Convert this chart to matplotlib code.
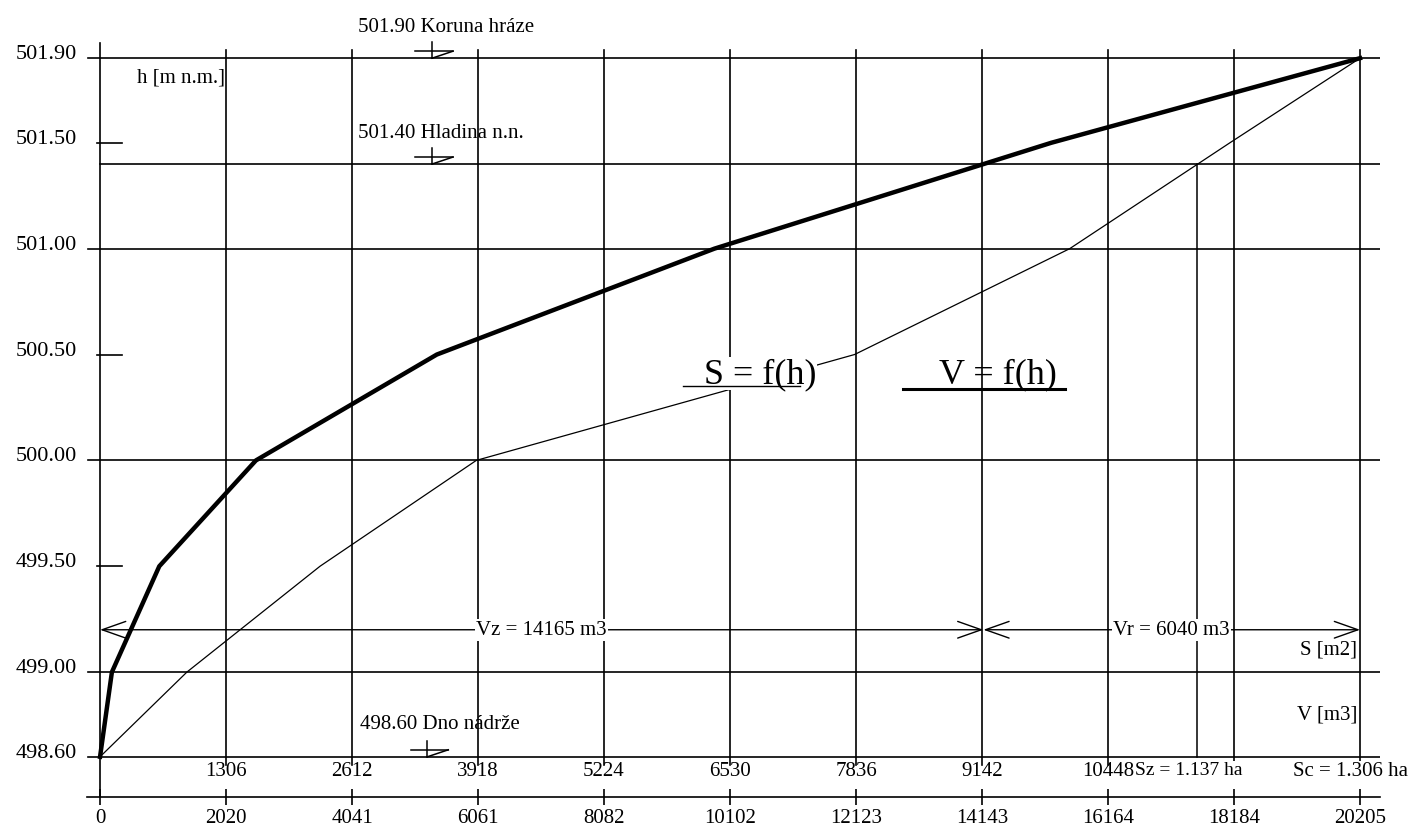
import numpy as np
import matplotlib.pyplot as plt

plt.rcParams['font.family'] = ['Liberation Serif', 'DejaVu Serif']

# reservoir levels h [m n.m.], volume V [m3], area S [m2]
h = [498.60, 499.00, 499.50, 500.00, 500.50, 501.00, 501.50, 501.90]
V = [0, 190, 950, 2500, 5400, 9850, 15250, 20205]
S = [0, 900, 2280, 3900, 7820, 10050, 11710, 13060]

V_max = 20205
S_max = 13060
V_ticks = [0, 2020, 4041, 6061, 8082, 10102, 12123, 14143, 16164, 18184, 20205]
S_ticks = [1306, 2612, 3918, 5224, 6530, 7836, 9142, 10448]
h_ticks = [501.90, 501.50, 501.00, 500.50, 500.00, 499.50, 499.00, 498.60]
h_long = [501.90, 501.00, 500.00, 499.00, 498.60]
h_short = [501.50, 500.50, 499.50]

h_crest = 501.90
h_normal = 501.40
h_bottom = 498.60
Vz = 14165
Vr = 6040
Sz = 11370
h_arrow = 499.20


def s2v(s):
    return np.asarray(s, dtype=float) * V_max / S_max


def v2s(v):
    return np.asarray(v, dtype=float) * S_max / V_max


def level_mark(ax, x0, lev):
    # water level symbol
    kw = dict(color='black', lw=1.1)
    ax.plot([x0 - 270, x0 + 335], [lev + 0.033] * 2, **kw)
    ax.plot([x0, x0], [lev, lev + 0.075], **kw)
    ax.plot([x0 + 335, x0], [lev + 0.033, lev], **kw)


fig = plt.figure(figsize=(14.25, 8.37), dpi=100)
ax = fig.add_axes([0.0608, 0.0466, 0.9074, 0.908])
ax.set_xlim(-215, 20520)
ax.set_ylim(498.41, 502.0)

for s in ['top', 'right', 'left']:
    ax.spines[s].set_visible(False)
ax.spines['bottom'].set_linewidth(1.2)

# V axis (bottom)
ax.set_xticks(V_ticks, labels=[str(v) for v in V_ticks])
ax.tick_params(axis='x', direction='inout', length=12, width=1.2, pad=2, labelsize=15)

# h labels
ax.set_yticks(h_ticks, labels=[f'{v:.2f}' for v in h_ticks])
ax.tick_params(axis='y', length=0, pad=7, labelsize=16)
plt.setp(ax.get_yticklabels(), va='baseline')

# S axis (labels under the bottom level line)
loc = (h_bottom - 498.41) / (502.0 - 498.41)
sec = ax.secondary_xaxis(loc, functions=(v2s, s2v))
sec.set_xticks(S_ticks, labels=[str(s) for s in S_ticks])
sec.tick_params(length=0, pad=3, labelsize=15)
for sp in sec.spines.values():
    sp.set_visible(False)

# grid
for lev in h_long:
    ax.plot([-200, 20520], [lev, lev], color='black', lw=1.2)
ax.plot([0, 20520], [h_normal, h_normal], color='black', lw=1.2)
for lev in h_short:
    ax.plot([-48, 353], [lev, lev], color='black', lw=1.2)
ax.plot([0, 0], [498.41, 501.97], color='black', lw=1.2)
for v in V_ticks[1:]:
    ax.plot([v, v], [498.56, 501.94], color='black', lw=1.2)

# curves
ax.plot(V, h, color='black', lw=3.2, solid_joinstyle='round')
ax.plot(s2v(S), h, color='black', lw=0.9)
ax.plot([s2v(Sz)] * 2, [h_bottom, h_normal], color='black', lw=1.1)

# volumes
arrow = dict(arrowstyle='<->,head_length=1.7,head_width=0.6', lw=1,
             color='black', shrinkA=0, shrinkB=0, mutation_scale=10)
ax.annotate('', xy=(0, h_arrow), xytext=(Vz, h_arrow), arrowprops=arrow)
ax.annotate('', xy=(Vz, h_arrow), xytext=(V_max, h_arrow), arrowprops=arrow)
box = dict(facecolor='white', edgecolor='none', pad=1)
ax.text(Vz / 2, h_arrow, f'Vz = {Vz} m3', fontsize=15, ha='center', va='center', bbox=box)
ax.text(Vz + Vr / 2, h_arrow, f'Vr = {Vr} m3', fontsize=15, ha='center', va='center', bbox=box)

# levels
level_mark(ax, 5325, h_crest)
level_mark(ax, 5325, h_normal)
level_mark(ax, 5250, h_bottom)
ax.text(4138, h_crest + 0.15, '501.90 Koruna hráze', fontsize=15, va='center')
ax.text(4138, h_normal + 0.15, '501.40 Hladina n.n.', fontsize=15, va='center')
ax.text(4170, h_bottom + 0.155, '498.60 Dno nádrže', fontsize=15, va='center')

ax.text(593, 501.81, 'h [m n.m.]', fontsize=15, va='center')
ax.text(20160, 499.11, 'S [m2]', fontsize=15, ha='right', va='center')
ax.text(20160, 498.80, 'V [m3]', fontsize=15, ha='right', va='center')

ax.text(10590, 500.37, 'S = f(h)', fontsize=26, ha='center', va='baseline', zorder=5,
        bbox=dict(facecolor='white', edgecolor='none', pad=0))
ax.plot([9350, 11230], [500.35, 500.35], color='black', lw=1, zorder=6)
ax.text(14404, 500.37, 'V = f(h)', fontsize=26, ha='center', va='baseline')
ax.plot([12880, 15480], [500.335, 500.335], color='black', lw=2.2)

ax.text(16600, 498.58, 'Sz = 1.137 ha', fontsize=14, va='top', zorder=10,
        bbox=dict(facecolor='white', edgecolor='none', pad=0))
ax.text(19135, 498.58, 'Sc = 1.306 ha', fontsize=15, va='top', zorder=10,
        bbox=dict(facecolor='white', edgecolor='none', pad=0))

fig.savefig('out.png', dpi=100)
